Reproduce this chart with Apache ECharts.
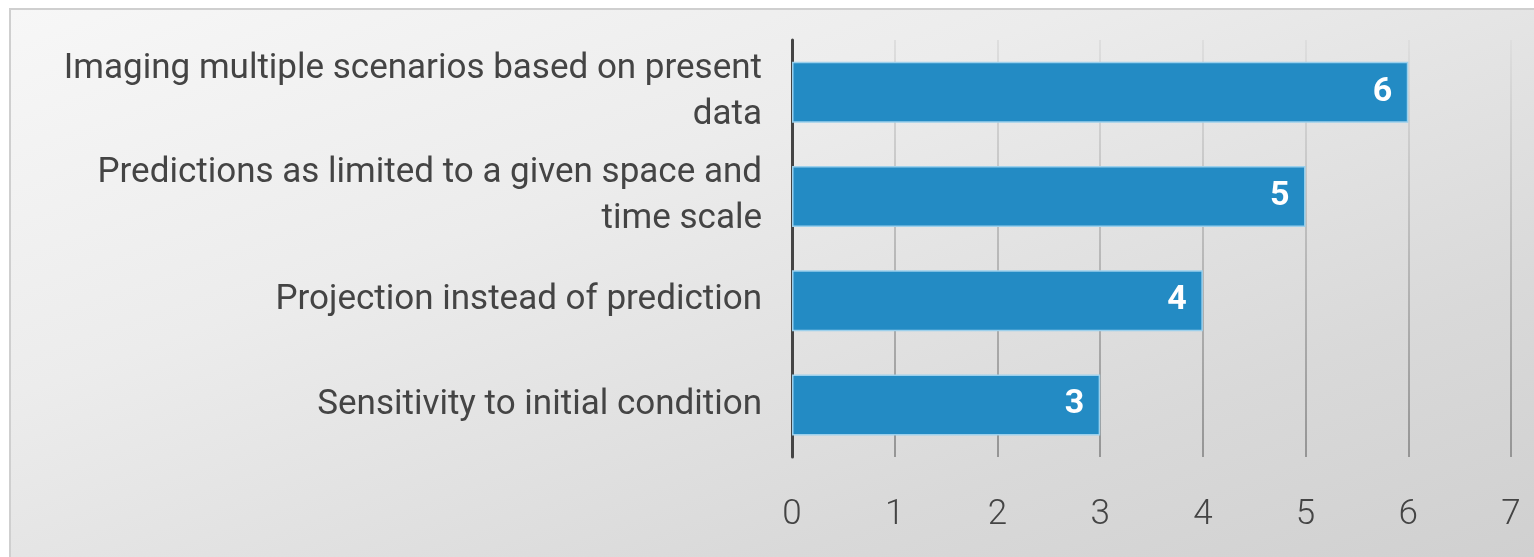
<!DOCTYPE html>
<html><head><meta charset="utf-8">
<script src="https://cdn.jsdelivr.net/npm/echarts@6/dist/echarts.min.js"></script>
<style>
html,body{margin:0;padding:0;background:#fff;}
#box{position:absolute;left:9px;top:8px;width:1525px;height:549px;box-sizing:border-box;border:2px solid #cfcfcf;border-right:none;border-bottom:none;
background:linear-gradient(160deg,#f7f7f7 0%,#ececec 35%,#d9d9d9 75%,#d0d0d0 100%);}
#chart{position:absolute;left:0;top:0;width:1534px;height:557px;}
</style></head>
<body><div id="box"></div><div id="chart"></div>
<script>
const categories = [
  "Sensitivity to initial condition",
  "Projection instead of prediction",
  "Predictions as limited to a given space and\ntime scale",
  "Imaging multiple scenarios based on present\ndata"
];
const values = [3, 4, 5, 6];
const xTicks = [0, 1, 2, 3, 4, 5, 6, 7];

const FONT = 'Roboto';
const chart = echarts.init(document.getElementById('chart'), null, {renderer:'canvas'});
chart.setOption({
  backgroundColor: 'transparent',
  animation: false,
  grid: {left: 792, right: 23, top: 40, bottom: 100, containLabel: false},
  xAxis: {
    type: 'value', min: 0, max: 7, interval: 1,
    axisLine: {show: false}, axisTick: {show: false},
    axisLabel: {color: '#444', fontSize: 35, fontFamily: FONT, fontWeight: 300, margin: 41,
      formatter: v => xTicks.includes(v) ? String(v) : ''},
    splitLine: {show: true, lineStyle: {width: 2,
      color: {type: 'linear', x: 0, y: 40, x2: 0, y2: 457, global: true,
        colorStops: [{offset: 0, color: '#dedede'}, {offset: 1, color: '#959595'}]}}}
  },
  yAxis: {
    type: 'category', data: categories,
    axisLine: {show: true, lineStyle: {color: '#444', width: 3}},
    axisTick: {show: false},
    axisLabel: {color: '#444', fontSize: 35, fontFamily: FONT, fontWeight: 'normal', margin: 30, lineHeight: 46, align: 'right', padding: [8, 0, 0, 0]}
  },
  series: [{
    type: 'bar', data: values, barWidth: 61,
    itemStyle: {color: '#238bc4', borderColor: '#9cd0ec', borderWidth: 1.5},
    label: {show: true, position: 'insideRight', distance: 16, color: '#fff', fontWeight: 'bold', fontSize: 34, fontFamily: FONT, padding: [6, 0, 0, 0]}
  }]
});
</script></body></html>
